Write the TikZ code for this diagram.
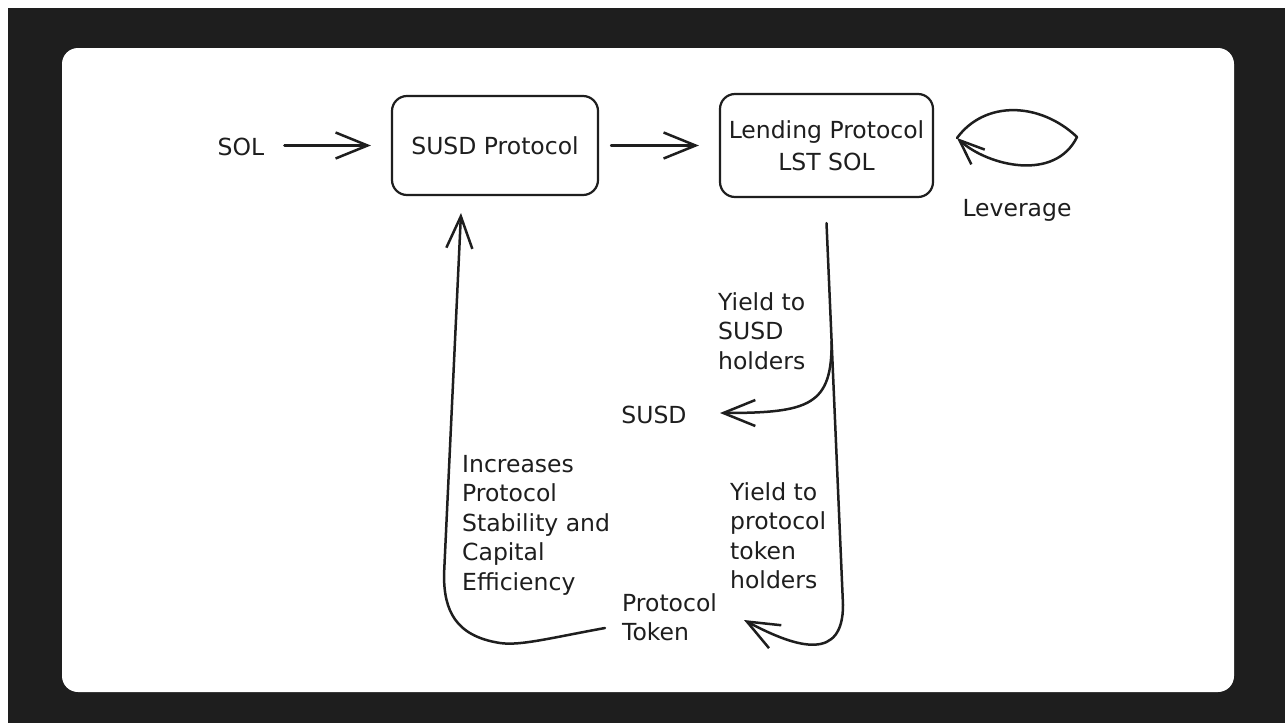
\documentclass[tikz,border=0pt]{standalone}
\usepackage{fontspec}
\setmainfont{DejaVu Sans}
\usetikzlibrary{arrows.meta}
\definecolor{ink}{HTML}{1E1E1E}
\definecolor{dark}{HTML}{1E1E1E}
\begin{document}
\begin{tikzpicture}[x=1pt,y=-1pt,
  inkline/.style={draw=ink, line width=2.5pt, line cap=round, line join=round},
  arr/.style={inkline, -{Straight Barb[length=32pt,width=26pt]}},
  sarr/.style={inkline, -{Straight Barb[length=25pt,width=20pt]}},
  procbox/.style={draw=ink, line width=2.2pt, rounded corners=15pt, align=center,
    font=\fontsize{23.5}{32}\selectfont, text=ink},
  lbl/.style={font=\fontsize{23.5}{29.5}\selectfont, text=ink, inner sep=0pt, align=left}]
\useasboundingbox (0,0) rectangle (1285,723);
\fill[white] (0,0) rectangle (1285,723);
\fill[dark] (8,8) rectangle (1285,723);
\fill[white, rounded corners=16pt] (62,48) rectangle (1234,692);

% nodes
\node[procbox, minimum width=206pt, minimum height=99pt] (susd) at (495,145.5) {\raisebox{-4pt}{SUSD Protocol}};
\node[procbox, minimum width=213pt, minimum height=103pt] (lend) at (826.5,145.5) {Lending Protocol\\LST SOL};
\node[lbl] (sol) at (241,147) {SOL};
\node[lbl] (susdtok) at (654,415) {SUSD};
\node[lbl, anchor=north west] (ylds) at (718,292) {Yield to\\SUSD\\holders};
\node[lbl, anchor=north west] (yldp) at (730,482) {Yield to\\protocol\\token\\holders};
\node[lbl, anchor=north west] (ptok) at (622,593) {Protocol\\Token};
\node[lbl, anchor=north west] (incr) at (462,455) {Increases\\Protocol\\Stability and\\Capital\\Efficiency};
\node[lbl] (lev) at (1017,210) {Leverage};

% free ends
\coordinate (tokend) at (744,620);
\coordinate (susdend) at (720,413);
\coordinate (loopstart) at (605,628);
\coordinate (looptip) at (461,213);
\coordinate (levL) at (957,138);
\coordinate (levR) at (1077,137);

% connectors
\draw[arr] ([xshift=20pt]sol.east |- susd.west) -- ([xshift=-20pt]susd.west);
\draw[arr] ([xshift=12pt]susd.east) -- ([xshift=-20pt]lend.west);
\draw[arr] ([yshift=-25pt]lend.south) -- coordinate[pos=0.31] (br) (843,605)
  .. controls (843,660) and (800,650) .. (tokend);
\draw[arr] (br) .. controls (832,405) and (810,413) .. (susdend);
\draw[arr] (loopstart) .. controls (550,638) and (520,646) .. (500,643)
  .. controls (455,636) and (444,610) .. (444,575) -- (looptip);
\draw[sarr] (levL) .. controls (985,100) and (1040,102) .. (levR)
  .. controls (1055,182) and (988,166) .. (levL);
\end{tikzpicture}
\end{document}
